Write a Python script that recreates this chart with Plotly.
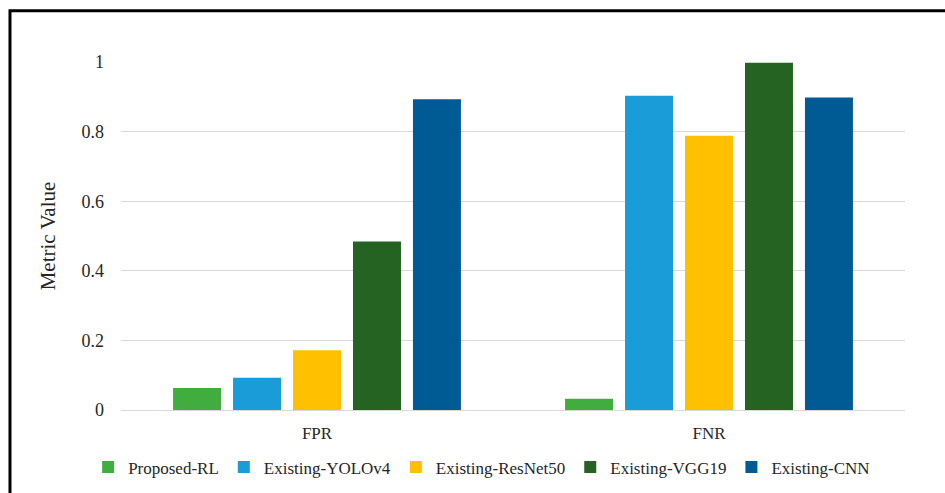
import plotly.graph_objects as go

categories = ["FPR", "FNR"]
series_names = ["Proposed-RL", "Existing-YOLOv4", "Existing-ResNet50", "Existing-VGG19", "Existing-CNN"]
proposed_rl = [0.063, 0.032]
existing_yolov4 = [0.093, 0.903]
existing_resnet50 = [0.172, 0.788]
existing_vgg19 = [0.484, 0.998]
existing_cnn = [0.893, 0.898]
colors = ["#41AD3E", "#199CD7", "#FFC000", "#246321", "#005B94"]
y_tickvals = [0, 0.2, 0.4, 0.6, 0.8, 1]
y_ticktext = ["0", "0.2", "0.4", "0.6", "0.8", "1"]

values = [proposed_rl, existing_yolov4, existing_resnet50, existing_vgg19, existing_cnn]

fig = go.Figure()
for name, vals, col in zip(series_names, values, colors):
    fig.add_trace(go.Bar(x=categories, y=vals, name=name, marker=dict(color=col, line=dict(width=0))))

font_family = "Liberation Serif"
fig.update_layout(
    width=945, height=493,
    margin=dict(l=121, r=40, t=62, b=83, autoexpand=False),
    paper_bgcolor="white", plot_bgcolor="white",
    barmode="group", bargap=0.235, bargroupgap=0.2,
    font=dict(family=font_family, color="#262626"),
    showlegend=True,
    legend=dict(orientation="h", x=0.46, xanchor="center", y=-0.165, yanchor="middle",
                font=dict(family=font_family, size=17, color="#262626"),
                itemwidth=30, tracegroupgap=0),
    xaxis=dict(showgrid=False, showline=True, linecolor="#d9d9d9", linewidth=1,
               tickfont=dict(family=font_family, size=17, color="#262626"), ticks="", ticklabelstandoff=8),
    yaxis=dict(range=[0, 1], tickvals=y_tickvals, ticktext=y_ticktext,
               showgrid=True, gridcolor="#d9d9d9", gridwidth=1, zeroline=False,
               tickfont=dict(family=font_family, size=18, color="#262626"),
               ticks="", ticklabelstandoff=16,
               title=dict(text="Metric Value", font=dict(family=font_family, size=21, color="#262626"), standoff=20)),
    shapes=[dict(type="rect", xref="paper", yref="paper", x0=-0.1416, x1=1.2, y0=-0.5, y1=1.147,
                 line=dict(color="black", width=3), fillcolor="rgba(0,0,0,0)", layer="above")],
)

fig.write_html("out.html")
